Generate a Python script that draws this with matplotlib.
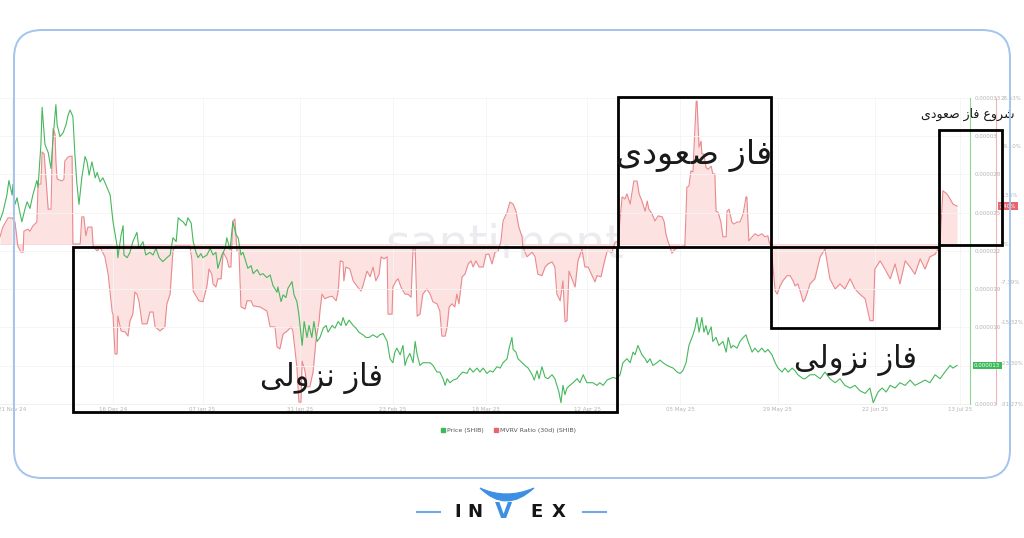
import numpy as np
import pandas as pd
import matplotlib
matplotlib.use("Agg")
import matplotlib.pyplot as plt
import matplotlib.dates as mdates
from matplotlib.patches import Rectangle, FancyBboxPatch, PathPatch
from matplotlib.lines import Line2D
from matplotlib.path import Path
from matplotlib.transforms import IdentityTransform

plt.rcParams["font.family"] = ["DejaVu Sans"]

W, H = 1024, 538
start = pd.Timestamp("2024-11-18")

# (days since 18 Nov 2024, price in 1e-6 USD)
price_pts = [
    (0.0, 23.8), (0.7, 24.4), (1.7, 25.7), (2.2, 26.8), (3.0, 25.7), (3.2, 26.5), (3.7, 25.0), (4.2, 25.5),
    (4.9, 24.4), (5.4, 23.7), (6.2, 24.7), (6.7, 25.2), (7.4, 24.7), (8.1, 25.7), (9.1, 26.8), (9.4, 26.3),
    (10.1, 29.5), (10.4, 32.3), (11.1, 29.5), (11.9, 28.9), (12.6, 27.7), (13.1, 30.0), (13.8, 32.5), (14.1, 31.0),
    (14.8, 30.1), (15.6, 30.4), (16.3, 31.0), (16.8, 31.7), (17.3, 32.1), (18.0, 31.6), (18.5, 28.7), (19.0, 26.5),
    (19.5, 25.0), (20.2, 27.0), (21.0, 28.6), (21.5, 28.2), (22.0, 27.2), (22.7, 28.2), (23.5, 27.0), (24.0, 27.4),
    (24.7, 26.7), (25.4, 27.0), (26.4, 26.3), (27.2, 25.7), (27.9, 23.7), (28.9, 21.9), (29.1, 21.0), (29.9, 22.7),
    (30.4, 23.4), (30.6, 21.2), (31.4, 21.0), (32.1, 21.4), (32.8, 22.2), (33.8, 22.9), (34.3, 21.7), (35.3, 22.2),
    (36.0, 21.2), (37.0, 21.4), (37.8, 21.2), (38.5, 21.7), (39.3, 21.0), (40.2, 20.7), (41.2, 21.0), (42.0, 21.2),
    (42.7, 22.5), (43.5, 22.2), (44.0, 24.0), (44.7, 23.8), (45.2, 23.7), (45.9, 23.4), (46.4, 24.0), (47.2, 23.6),
    (47.7, 22.2), (48.4, 21.4), (48.9, 21.0), (49.6, 21.3), (50.1, 21.0), (51.1, 21.2), (51.9, 21.7), (52.6, 21.2),
    (53.3, 21.4), (53.8, 20.2), (54.8, 21.2), (55.6, 21.7), (56.0, 22.5), (56.8, 21.6), (57.5, 23.7), (58.3, 22.7),
    (58.8, 22.5), (59.5, 21.2), (60.0, 21.4), (60.7, 20.7), (61.2, 20.2), (62.0, 20.4), (62.5, 19.8), (63.5, 20.1),
    (64.2, 19.7), (64.9, 19.8), (65.9, 19.5), (66.7, 19.7), (67.4, 18.9), (68.4, 18.4), (68.6, 18.8), (69.4, 17.7),
    (69.9, 18.2), (70.6, 18.0), (71.1, 18.7), (72.1, 19.2), (72.6, 18.2), (73.3, 17.7), (73.8, 16.7), (74.6, 14.4),
    (75.1, 16.2), (75.8, 15.0), (76.3, 15.9), (77.0, 15.0), (77.5, 16.2), (78.3, 14.7), (79.0, 15.0), (79.8, 15.7),
    (80.5, 15.9), (81.0, 15.4), (82.0, 15.9), (82.7, 15.7), (83.5, 16.2), (84.2, 15.9), (84.7, 16.5), (85.4, 15.9),
    (86.2, 16.3), (87.2, 15.9), (87.9, 15.7), (88.6, 15.4), (89.6, 15.2), (90.4, 15.0), (91.1, 15.0), (92.1, 15.2),
    (93.1, 15.0), (93.8, 15.2), (94.6, 15.3), (95.6, 14.7), (96.3, 13.4), (97.0, 13.1), (97.5, 13.9), (98.0, 14.2),
    (98.8, 13.7), (99.5, 14.4), (100.0, 12.9), (100.5, 13.4), (101.2, 13.8), (102.0, 13.1), (102.5, 14.7), (103.0, 13.7),
    (103.7, 12.9), (104.4, 13.1), (105.4, 13.1), (106.2, 13.1), (106.9, 12.9), (107.9, 12.4), (108.6, 12.4), (109.4, 11.9),
    (109.9, 11.4), (110.4, 11.9), (111.1, 11.6), (111.9, 11.8), (112.8, 11.9), (113.6, 12.2), (114.3, 12.4), (115.3, 12.3),
    (116.0, 12.7), (116.8, 12.4), (117.8, 12.7), (118.5, 12.4), (119.3, 12.7), (120.2, 12.3), (121.0, 12.5), (121.7, 12.4),
    (122.7, 12.8), (123.5, 12.7), (124.2, 13.1), (125.2, 13.4), (125.7, 14.2), (126.4, 15.0), (126.7, 14.1), (127.4, 13.9),
    (127.9, 13.4), (128.9, 13.1), (129.6, 12.9), (130.4, 12.7), (131.4, 12.2), (131.9, 11.8), (132.6, 12.5), (133.1, 11.9),
    (133.8, 12.8), (134.6, 12.0), (135.3, 11.9), (136.3, 12.2), (137.0, 11.9), (137.5, 11.4), (138.0, 10.9), (138.5, 10.1),
    (139.0, 11.4), (139.5, 10.7), (140.0, 11.2), (140.7, 11.4), (141.5, 11.6), (142.5, 11.9), (143.2, 11.6), (144.0, 12.2),
    (144.9, 11.6), (145.7, 11.6), (146.4, 11.6), (147.4, 11.4), (148.1, 11.6), (148.9, 11.4), (149.9, 11.8), (150.6, 11.9),
    (151.4, 12.0), (152.3, 11.9), (153.1, 12.2), (153.8, 13.1), (154.8, 13.4), (155.6, 13.1), (156.3, 13.9), (156.8, 13.7),
    (157.5, 14.4), (158.5, 13.7), (159.3, 13.4), (159.8, 13.1), (160.5, 13.4), (161.2, 12.9), (162.2, 13.1), (163.0, 13.3),
    (163.7, 13.1), (164.7, 12.9), (165.4, 12.8), (166.2, 12.7), (167.2, 12.4), (167.9, 12.3), (168.6, 12.5), (169.4, 13.1),
    (170.1, 14.4), (171.1, 15.2), (171.6, 15.7), (172.1, 16.5), (172.6, 15.4), (173.3, 16.5), (173.8, 15.4), (174.3, 15.9),
    (174.8, 15.2), (175.6, 15.8), (176.0, 14.7), (176.8, 15.0), (177.5, 14.4), (178.5, 14.7), (179.3, 13.9), (179.8, 15.0),
    (180.5, 14.2), (181.0, 14.4), (182.0, 14.2), (182.7, 14.7), (183.5, 15.0), (184.2, 15.2), (184.7, 14.7), (185.7, 13.9),
    (186.4, 14.2), (187.2, 13.9), (188.1, 14.2), (188.9, 13.9), (189.6, 14.1), (190.6, 13.7), (191.4, 13.1), (192.1, 12.7),
    (193.1, 12.4), (193.8, 12.7), (194.6, 12.4), (195.6, 12.7), (196.3, 12.5), (197.0, 12.2), (198.3, 11.9), (198.8, 11.9),
    (200.0, 12.2), (201.2, 12.2), (202.5, 11.9), (203.7, 12.4), (204.9, 11.9), (206.2, 11.6), (207.4, 11.9), (208.6, 11.4),
    (209.9, 11.2), (211.1, 11.4), (212.3, 11.0), (213.6, 10.8), (214.8, 11.2), (215.6, 10.1), (216.8, 10.9), (217.8, 11.2),
    (218.8, 10.9), (219.8, 11.4), (221.0, 11.2), (222.2, 11.6), (223.5, 11.4), (224.7, 11.8), (225.9, 11.4), (227.2, 11.6),
    (228.4, 11.8), (229.6, 11.6), (230.9, 12.2), (232.1, 11.9), (233.3, 12.4), (234.6, 12.9), (235.3, 12.7), (236.3, 12.9),
]

# (days since 18 Nov 2024, MVRV 30d in %)
mvrv_pts = [
    (0.0, 1.4), (0.7, 3.3), (2.0, 5.1), (3.0, 5.1), (3.7, 4.3), (4.4, -0.4), (5.2, -1.6), (5.7, -1.6),
    (5.9, 2.5), (6.9, 2.9), (7.4, 2.5), (8.1, 3.5), (9.1, 4.3), (9.4, 11.7), (10.1, 11.7), (10.4, 18.0),
    (10.9, 17.6), (11.4, 12.1), (11.9, 6.8), (12.6, 6.8), (12.8, 14.3), (13.1, 22.5), (13.6, 21.5), (13.8, 16.2),
    (14.1, 12.7), (15.3, 12.3), (15.8, 12.7), (16.0, 16.2), (16.8, 17.0), (17.8, 17.2), (18.0, 0.0), (19.8, 0.0),
    (20.2, 5.3), (20.7, 5.3), (21.2, 1.6), (21.7, 3.3), (22.7, 3.3), (23.0, -0.4), (24.0, -1.4), (24.7, -0.6),
    (25.9, -2.5), (26.7, -5.9), (27.7, -13.3), (27.9, -13.7), (28.4, -21.5), (28.9, -21.5), (29.1, -14.1), (29.9, -17.0),
    (30.9, -17.2), (31.6, -18.0), (32.1, -15.0), (32.8, -13.7), (33.3, -9.4), (33.8, -9.8), (34.3, -11.1), (35.1, -15.6),
    (36.3, -15.6), (37.0, -13.3), (37.8, -13.3), (38.3, -16.2), (39.5, -17.0), (40.7, -16.2), (41.2, -11.7), (42.0, -9.8),
    (42.7, -1.4), (43.2, -0.4), (46.9, -0.4), (47.4, -3.3), (47.7, -9.2), (48.6, -10.4), (49.1, -11.1), (50.1, -11.3),
    (51.1, -8.2), (51.6, -4.9), (52.3, -5.9), (52.6, -7.8), (53.3, -8.4), (53.8, -6.8), (54.6, -6.8), (55.1, -1.6),
    (56.0, -2.9), (56.5, -4.5), (57.0, -4.5), (57.5, 4.5), (58.0, 4.9), (58.5, -1.4), (59.0, -1.4), (59.5, -12.3),
    (60.5, -12.7), (61.0, -11.1), (62.0, -11.1), (62.5, -12.1), (64.2, -12.3), (65.9, -13.1), (66.7, -16.2), (67.9, -16.2),
    (68.4, -20.1), (69.1, -20.5), (69.9, -17.6), (70.9, -17.0), (71.9, -16.2), (72.3, -17.0), (73.3, -24.0), (73.8, -30.9),
    (74.3, -30.9), (74.6, -22.9), (75.3, -24.8), (75.8, -27.9), (76.5, -27.9), (77.3, -25.0), (78.0, -18.9), (78.8, -15.0),
    (79.0, -13.1), (79.5, -9.8), (80.2, -10.7), (81.0, -10.4), (82.0, -10.2), (83.0, -11.1), (83.5, -9.2), (84.0, -3.3),
    (84.7, -3.5), (84.9, -7.2), (85.4, -4.5), (86.4, -4.9), (87.2, -7.2), (88.1, -8.2), (89.1, -9.2), (89.6, -8.2),
    (90.6, -5.3), (91.4, -6.4), (92.1, -4.5), (92.8, -7.2), (93.6, -5.9), (94.1, -2.5), (94.8, -2.9), (95.6, -2.5),
    (95.8, -13.7), (96.8, -13.7), (97.0, -8.4), (97.8, -7.2), (98.3, -6.8), (99.0, -8.4), (100.0, -9.8), (100.7, -9.8),
    (101.5, -10.4), (102.0, -0.6), (102.5, -0.6), (103.0, -14.1), (103.7, -13.7), (104.4, -9.8), (105.4, -8.8), (106.2, -9.8),
    (106.9, -11.3), (107.9, -11.7), (108.6, -13.1), (109.1, -18.0), (109.9, -18.0), (110.4, -16.2), (110.9, -12.3), (111.6, -11.7),
    (112.3, -12.3), (112.8, -9.8), (113.3, -11.7), (114.1, -6.4), (114.8, -5.9), (115.6, -3.9), (116.3, -3.3), (116.8, -4.5),
    (117.5, -3.3), (118.3, -4.5), (119.3, -4.5), (120.0, -2.0), (120.7, -2.0), (121.5, -3.9), (122.2, -1.6), (123.0, -1.4),
    (123.7, 0.6), (124.2, 4.5), (125.2, 6.2), (125.9, 8.2), (126.7, 7.8), (127.4, 6.4), (128.1, 3.3), (128.9, 1.4),
    (129.1, -0.6), (130.1, -2.5), (131.4, -1.6), (132.1, -2.5), (132.8, -5.9), (133.8, -6.2), (134.6, -4.5), (135.3, -3.9),
    (136.3, -3.5), (137.0, -4.5), (137.5, -9.8), (138.3, -11.1), (139.0, -7.2), (139.5, -15.2), (140.0, -15.0), (140.5, -5.3),
    (141.2, -6.8), (142.0, -8.4), (142.7, -3.3), (143.7, -1.0), (144.4, -4.5), (145.2, -4.5), (146.2, -6.2), (146.9, -7.4),
    (147.4, -6.2), (148.4, -6.4), (149.1, -3.9), (149.9, -1.4), (151.1, -1.6), (151.9, 0.4), (152.6, 0.4), (153.6, 9.2),
    (154.3, 8.8), (154.8, 9.8), (155.6, 7.8), (156.5, 12.3), (157.3, 12.3), (157.8, 9.8), (158.5, 8.4), (159.3, 6.4),
    (159.8, 8.4), (160.2, 6.8), (161.0, 5.9), (161.7, 4.5), (162.5, 5.5), (163.5, 5.3), (164.0, 4.3), (164.4, 2.0),
    (164.9, 0.6), (165.4, -0.6), (165.9, -1.8), (166.7, -1.0), (167.9, -0.6), (169.1, -0.4), (169.6, 11.1), (170.1, 11.3),
    (170.6, 14.3), (171.1, 14.1), (171.4, 19.5), (171.9, 27.9), (172.1, 27.9), (172.6, 18.9), (173.1, 20.1), (173.3, 17.6),
    (173.8, 17.6), (174.3, 15.0), (174.8, 14.6), (175.6, 15.2), (176.0, 13.7), (176.5, 13.7), (176.8, 6.4), (177.3, 6.2),
    (178.0, 4.3), (178.5, 1.4), (179.3, 1.4), (179.5, 6.4), (180.0, 6.8), (180.7, 4.3), (181.2, 3.9), (182.0, 4.3),
    (182.7, 4.3), (183.5, 5.9), (184.2, 9.2), (184.4, 9.2), (184.9, 0.6), (185.7, 1.4), (186.4, 2.0), (187.2, 1.6),
    (188.1, 2.0), (188.9, 1.4), (189.6, 1.6), (189.9, 0.4), (190.4, -0.6), (191.4, -9.2), (191.9, -9.8), (192.6, -8.2),
    (193.3, -7.2), (194.3, -6.2), (195.1, -6.2), (195.8, -7.2), (196.3, -8.2), (197.0, -7.8), (197.8, -9.8), (198.3, -11.3),
    (198.8, -10.7), (200.0, -7.8), (201.2, -6.8), (202.5, -2.5), (203.7, -1.0), (204.9, -6.8), (206.2, -8.8), (207.4, -7.8),
    (208.6, -8.8), (209.9, -6.8), (211.1, -8.8), (212.3, -9.8), (213.6, -10.7), (214.8, -15.0), (215.6, -15.0), (216.0, -4.9),
    (217.3, -3.3), (218.5, -4.9), (219.8, -6.8), (221.0, -3.9), (222.2, -7.8), (223.5, -3.3), (224.7, -4.5), (225.9, -5.9),
    (227.2, -2.9), (228.4, -4.9), (229.6, -2.5), (230.9, -2.0), (231.6, -1.0), (232.1, 0.0), (232.8, 10.4), (233.8, 9.8),
    (234.6, 8.8), (235.3, 7.8), (236.3, 7.4),
]

date_ticks = ["2024-11-21", "2024-12-16", "2025-01-07", "2025-01-31", "2025-02-23", "2025-03-18",
              "2025-04-12", "2025-05-05", "2025-05-29", "2025-06-22", "2025-07-13"]
price_tick_labels = ["0.00001", "0.000013", "0.000016", "0.000019", "0.000022",
                     "0.000025", "0.000028", "0.00003", "0.000033"]
mvrv_ticks = [-31.27, -23.30, -15.32, -7.39, 0, 9.56, 19.10, 28.53]
legend_labels = ["Price (SHIB)", "MVRV Ratio (30d) (SHIB)"]

# Persian labels, written in shaped (presentation) forms, visual order
txt_up = "\uFEEF\uFEA9\uFEEE\uFECC\uFEBB \uFEAF\uFE8E\uFED3"           # فاز صعودی
txt_down = "\uFEF0\uFEDF\uFEED\uFEB0\uFEE7 \uFEAF\uFE8E\uFED3"         # فاز نزولی
txt_start = txt_up + " \uFEC9\uFEED\uFEAE\uFEB7"                       # شروع فاز صعودی

GREEN = "#45b85c"
RED_LINE = "#e98a8e"
RED_FILL = "#fde2e2"
TICK_C = "#b3b3b3"


def fx(x):
    return x / W


def fy(y):
    return 1 - y / H


fig = plt.figure(figsize=(W / 100, H / 100), dpi=100)
fig.patch.set_facecolor("white")

ax = fig.add_axes([0, fy(404), fx(970), (404 - 98) / H])
ax2 = ax.twinx()

pd_, pv = zip(*price_pts)
md, mv = zip(*mvrv_pts)
t_price = start + pd.to_timedelta(pd_, unit="D")
t_mvrv = start + pd.to_timedelta(md, unit="D")
price = np.array(pv) * 1e-6
mvrv = np.array(mv)

ax.text(fx(505), fy(245), "santiment", transform=fig.transFigure, fontsize=34,
        color="#ececf0", ha="center", va="center", zorder=0.5)
ax.axhline(0, color="#f6c9cb", lw=0.6, zorder=0.8)
ax.fill_between(t_mvrv, mvrv, 0, color=RED_FILL, lw=0, zorder=1)
ax.plot(t_mvrv, mvrv, color=RED_LINE, lw=0.8, zorder=2)
ax2.plot(t_price, price, color=GREEN, lw=0.8)

ax.set_xlim(start, start + pd.Timedelta(days=239.5))
ax.set_ylim(-31.27, 28.53)
ax2.set_ylim(10e-6, 33e-6)

for a in (ax, ax2):
    for s in ("top", "left"):
        a.spines[s].set_visible(False)
ax2.spines["bottom"].set_visible(False)
ax.spines["bottom"].set_color("#eeeeee")
ax.spines["bottom"].set_linewidth(0.6)
ax.spines["right"].set_position(("outward", 19))
ax.spines["right"].set_color("#f2b3b6")
ax.spines["right"].set_linewidth(0.8)
ax2.spines["right"].set_color("#8fd49b")
ax2.spines["right"].set_linewidth(0.8)

ax.yaxis.tick_right()
ax.set_yticks(mvrv_ticks)
ax.set_yticklabels(["0%" if v == 0 else f"{v:.2f}%" for v in mvrv_ticks])
ax.tick_params(axis="y", length=0, pad=3, labelsize=4, labelcolor=TICK_C)
ax2.set_yticks(np.linspace(10e-6, 33e-6, 9))
ax2.set_yticklabels(price_tick_labels)
ax2.tick_params(axis="y", length=0, pad=3, labelsize=4, labelcolor=TICK_C)

ax.set_xticks(pd.to_datetime(date_ticks))
ax.xaxis.set_major_formatter(mdates.DateFormatter("%d %b %y"))
ax.tick_params(axis="x", length=0, pad=2, labelsize=4, labelcolor=TICK_C)
ax.grid(axis="x", color="#f4f4f4", lw=0.6)
ax2.grid(axis="y", color="#f4f4f4", lw=0.6)
ax2.set_axisbelow(True)

# last value tags
ax2.annotate(f"{price[-1]:.6f}", xy=(1, price[-1]), xycoords=("axes fraction", "data"),
             xytext=(4, 0), textcoords="offset pixels", ha="left", va="center",
             fontsize=4, color="white",
             bbox=dict(boxstyle="square,pad=0.25", fc="#3cb95a", ec="none"))
ax.annotate(f"{mvrv[-1]:.2f}%", xy=(1, mvrv[-1]), xycoords=("axes fraction", "data"),
            xytext=(29, 0), textcoords="offset pixels", ha="left", va="center",
            fontsize=4, color="white",
            bbox=dict(boxstyle="square,pad=0.25", fc="#e8656b", ec="none"))

handles = [Line2D([], [], ls="", marker="s", ms=3, color="#3cb95a"),
           Line2D([], [], ls="", marker="s", ms=3, color="#e8656b")]
fig.legend(handles, legend_labels, loc="center", bbox_to_anchor=(fx(508), fy(430)),
           ncol=2, frameon=False, fontsize=4.5, labelcolor="#555555",
           handletextpad=0.3, columnspacing=1.5, handlelength=0.8)

# phase boxes (pixel layout: left, top, right, bottom)
phase_boxes = [(73, 247, 617, 412), (618, 97, 771, 247), (771, 247, 939, 328), (939, 130, 1002, 245)]
for x0, y0, x1, y1 in phase_boxes:
    fig.add_artist(Rectangle((fx(x0), fy(y1)), fx(x1) - fx(x0), (y1 - y0) / H,
                             transform=fig.transFigure, fill=False, ec="black", lw=2.0, zorder=5))

fig.text(fx(694), fy(156), txt_up, fontsize=24, ha="center", va="center", color="#1a1a1a", zorder=6)
fig.text(fx(322), fy(378), txt_down, fontsize=22, ha="center", va="center", color="#1a1a1a", zorder=6)
fig.text(fx(855), fy(360), txt_down, fontsize=22, ha="center", va="center", color="#1a1a1a", zorder=6)
fig.text(fx(968), fy(114), txt_start, fontsize=9, ha="center", va="center", color="#1a1a1a", zorder=6)

# rounded frame
frame = FancyBboxPatch((14, H - 478), 996, 448, boxstyle="round,pad=0,rounding_size=28",
                       transform=IdentityTransform(), fill=False, ec="#a3c4ee", lw=1.4, zorder=10)
fig.add_artist(frame)

# logo
BLUE = "#3d8fe3"
for x0, x1 in [(417, 440), (583, 606)]:
    fig.add_artist(Line2D([fx(x0), fx(x1)], [fy(512), fy(512)], transform=fig.transFigure,
                          color="#6fa9ea", lw=1.5))
for ch, xc in [("I", 458), ("N", 475), ("E", 536), ("X", 559)]:
    fig.text(fx(xc), fy(517), ch, fontsize=13, fontweight="bold", ha="center",
             va="baseline", color="#151515")
fig.text(fx(504), fy(518), "V", fontsize=16, fontweight="bold", ha="center",
         va="baseline", color=BLUE)
horn = Path([(480, H - 488), (506, H - 514), (534, H - 488), (506, H - 500), (480, H - 488), (480, H - 488)],
            [Path.MOVETO, Path.CURVE3, Path.CURVE3, Path.CURVE3, Path.CURVE3, Path.CLOSEPOLY])
fig.add_artist(PathPatch(horn, transform=IdentityTransform(), fc=BLUE, ec=BLUE, lw=0.8))

fig.savefig("out.png", dpi=100, facecolor="white")
